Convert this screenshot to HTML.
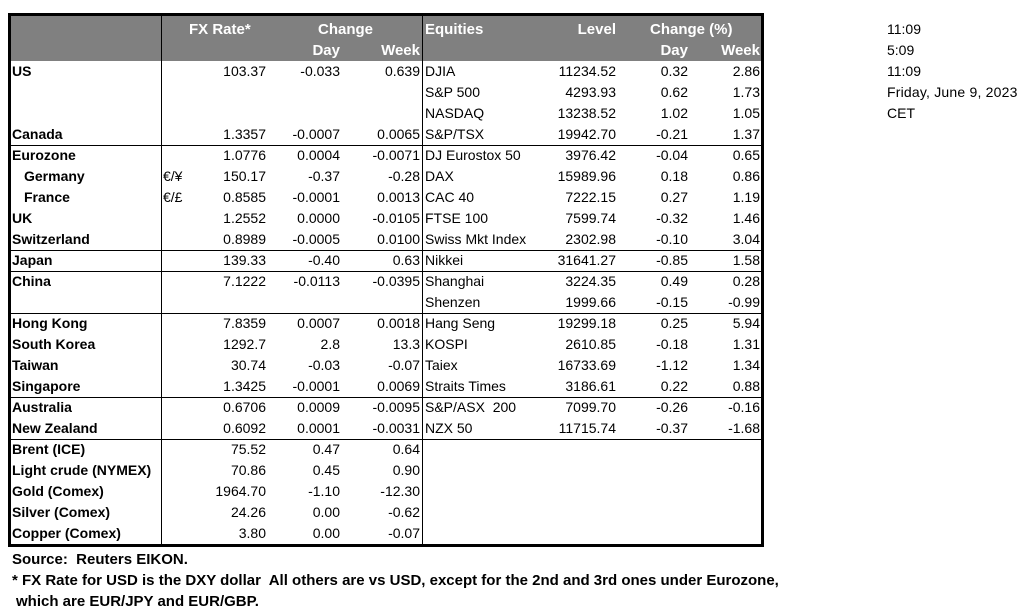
<!DOCTYPE html>
<html><head><meta charset="utf-8"><style>
body{margin:0;width:1024px;height:614px;background:#fff;position:relative;font-family:"Liberation Sans",Arial,sans-serif;font-size:14px;color:#000;overflow:hidden}
.t{position:absolute;white-space:pre;line-height:16px}
.r{text-align:right}
.b{font-weight:bold}
.w{color:#fff;font-weight:bold;font-size:15px}
.f{font-size:15px;font-weight:bold}
.hl{position:absolute;left:9px;width:753px;height:1px;background:#000}
.vl{position:absolute;width:1px;background:#000}
</style></head><body>
<div style="position:absolute;left:8px;top:13px;width:750px;height:528px;border:3px solid #000"></div>
<div style="position:absolute;left:11px;top:16px;width:750px;height:45px;background:#808080"></div>
<div class="vl" style="left:161px;top:16px;height:528px"></div>
<div class="vl" style="left:422px;top:16px;height:528px"></div>
<div class="hl" style="top:145px"></div>
<div class="hl" style="top:250px"></div>
<div class="hl" style="top:271px"></div>
<div class="hl" style="top:313px"></div>
<div class="hl" style="top:397px"></div>
<div class="hl" style="top:439px"></div>
<div class="t w" style="left:189px;top:22px">FX Rate*</div>
<div class="t w" style="left:318px;top:22px">Change</div>
<div class="t w r" style="right:684px;top:43px">Day</div>
<div class="t w r" style="right:604px;top:43px">Week</div>
<div class="t w" style="left:425px;top:22px">Equities</div>
<div class="t w r" style="right:408px;top:22px">Level</div>
<div class="t w" style="left:650px;top:22px">Change (%)</div>
<div class="t w r" style="right:336px;top:43px">Day</div>
<div class="t w r" style="right:264px;top:43px">Week</div>
<div id="rows"></div>
<div class="t" style="left:887px;top:21px">11:09</div>
<div class="t" style="left:887px;top:42px">5:09</div>
<div class="t" style="left:887px;top:63px">11:09</div>
<div class="t" style="left:887px;top:84px;letter-spacing:0.2px">Friday, June 9, 2023</div>
<div class="t" style="left:887px;top:105px">CET</div>
<div class="t f" style="left:12px;top:552px">Source:  Reuters EIKON.</div>
<div class="t f" style="left:12px;top:573px">* FX Rate for USD is the DXY dollar  All others are vs USD, except for the 2nd and 3rd ones under Eurozone,</div>
<div class="t f" style="left:16px;top:594px">which are EUR/JPY and EUR/GBP.</div>
<script>
var R=[
["US","","103.37","-0.033","0.639","DJIA","11234.52","0.32","2.86"],
["","","","","","S&P 500","4293.93","0.62","1.73"],
["","","","","","NASDAQ","13238.52","1.02","1.05"],
["Canada","","1.3357","-0.0007","0.0065","S&P/TSX","19942.70","-0.21","1.37"],
["Eurozone","","1.0776","0.0004","-0.0071","DJ Eurostox 50","3976.42","-0.04","0.65"],
["  Germany","€/¥","150.17","-0.37","-0.28","DAX","15989.96","0.18","0.86"],
["  France","€/£","0.8585","-0.0001","0.0013","CAC 40","7222.15","0.27","1.19"],
["UK","","1.2552","0.0000","-0.0105","FTSE 100","7599.74","-0.32","1.46"],
["Switzerland","","0.8989","-0.0005","0.0100","Swiss Mkt Index","2302.98","-0.10","3.04"],
["Japan","","139.33","-0.40","0.63","Nikkei","31641.27","-0.85","1.58"],
["China","","7.1222","-0.0113","-0.0395","Shanghai","3224.35","0.49","0.28"],
["","","","","","Shenzen","1999.66","-0.15","-0.99"],
["Hong Kong","","7.8359","0.0007","0.0018","Hang Seng","19299.18","0.25","5.94"],
["South Korea","","1292.7","2.8","13.3","KOSPI","2610.85","-0.18","1.31"],
["Taiwan","","30.74","-0.03","-0.07","Taiex","16733.69","-1.12","1.34"],
["Singapore","","1.3425","-0.0001","0.0069","Straits Times","3186.61","0.22","0.88"],
["Australia","","0.6706","0.0009","-0.0095","S&P/ASX  200","7099.70","-0.26","-0.16"],
["New Zealand","","0.6092","0.0001","-0.0031","NZX 50","11715.74","-0.37","-1.68"],
["Brent (ICE)","","75.52","0.47","0.64","","","",""],
["Light crude (NYMEX)","","70.86","0.45","0.90","","","",""],
["Gold (Comex)","","1964.70","-1.10","-12.30","","","",""],
["Silver (Comex)","","24.26","0.00","-0.62","","","",""],
["Copper (Comex)","","3.80","0.00","-0.07","","","",""]];
var h="";
function esc(s){return s.replace(/&/g,"&amp;")}
R.forEach(function(r,i){var y=63+i*21;
var ind=r[0].indexOf("  ")==0;
h+='<div class="t b" style="left:'+(ind?24:12)+'px;top:'+y+'px">'+r[0].trim()+'</div>';
h+='<div class="t" style="left:163px;top:'+y+'px">'+r[1]+'</div>';
h+='<div class="t r" style="right:758px;top:'+y+'px">'+r[2]+'</div>';
h+='<div class="t r" style="right:684px;top:'+y+'px">'+r[3]+'</div>';
h+='<div class="t r" style="right:604px;top:'+y+'px">'+r[4]+'</div>';
h+='<div class="t" style="left:425px;top:'+y+'px">'+esc(r[5])+'</div>';
h+='<div class="t r" style="right:408px;top:'+y+'px">'+r[6]+'</div>';
h+='<div class="t r" style="right:336px;top:'+y+'px">'+r[7]+'</div>';
h+='<div class="t r" style="right:264px;top:'+y+'px">'+r[8]+'</div>';});
document.getElementById("rows").innerHTML=h;
</script>
</body></html>
